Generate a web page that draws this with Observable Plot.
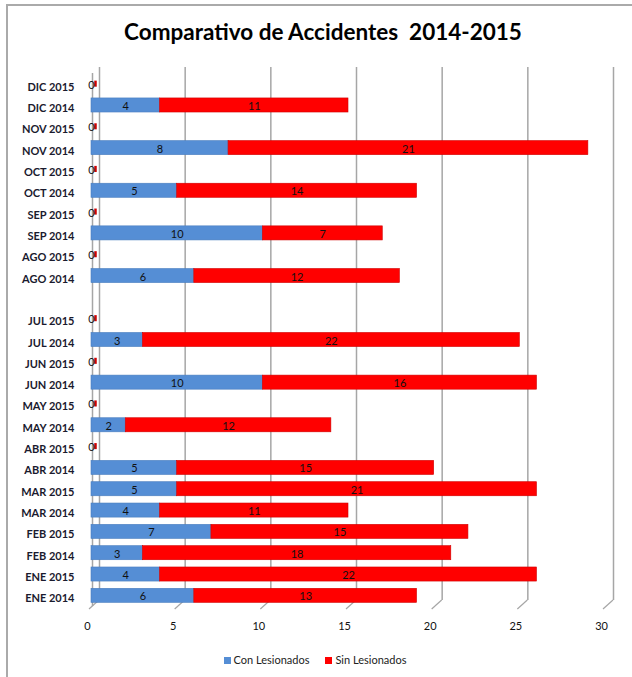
<!DOCTYPE html>
<html>
<head>
<meta charset="utf-8">
<script src="https://cdn.jsdelivr.net/npm/d3@7"></script>
<script src="https://cdn.jsdelivr.net/npm/@observablehq/plot@0.6"></script>
<style>
  body { margin: 0; background: #fff; font-family: Lato, "Open Sans", sans-serif; }
  #frame { position: absolute; left: 6px; top: 4px; width: 640px; height: 690px;
           border-left: 2px solid #aaa; border-top: 2px solid #aaa; }
  #title { position: absolute; left: 0; top: 18px; width: 646px; text-align: center;
           font: bold 22.5px Lato, sans-serif; white-space: pre; color: #000; }
  #chart { position: absolute; left: 0; top: 60px; }
  #legend { position: absolute; top: 653px; left: 0; width: 630px; text-align: center;
            font: 11px Lato, sans-serif; color: #222; }
  #legend span.sw { display: inline-block; width: 7px; height: 7px; margin-right: 3px; vertical-align: 0px; }
  #legend span.item { margin: 0 8px; }
</style>
</head>
<body>
<div id="frame"></div>
<div id="title">Comparativo de Accidentes  2014-2015</div>
<div id="chart"></div>
<div id="legend"></div>
<script>
const categories = ["ENE 2014","ENE 2015","FEB 2014","FEB 2015","MAR 2014","MAR 2015","ABR 2014","ABR 2015","MAY 2014","MAY 2015","JUN 2014","JUN 2015","JUL 2014","JUL 2015"," ","AGO 2014","AGO 2015","SEP 2014","SEP 2015","OCT 2014","OCT 2015","NOV 2014","NOV 2015","DIC 2014","DIC 2015"];
const conLesionados = [6,4,3,7,4,5,5,0,2,0,10,0,3,0,null,6,0,10,0,5,0,8,0,4,0];
const sinLesionados = [13,22,18,15,11,21,15,0,12,0,16,0,22,0,null,12,0,7,0,14,0,21,0,11,0];
const seriesNames = ["Con Lesionados","Sin Lesionados"];
const seriesColors = ["#558ed5","#ff0000"];
const xTicks = [0,5,10,15,20,25,30];

const rows = [];
categories.forEach((c, i) => {
  if (conLesionados[i] == null) return;
  rows.push({cat: c, series: seriesNames[0], value: conLesionados[i]});
  rows.push({cat: c, series: seriesNames[1], value: sinLesionados[i]});
});
const zeroRows = categories
  .map((c, i) => ({cat: c, total: conLesionados[i] == null ? null : conLesionados[i] + sinLesionados[i]}))
  .filter(d => d.total === 0);

const chart = Plot.plot({
  width: 632,
  height: 590,
  marginLeft: 91,
  marginRight: 27,
  marginTop: 13,
  marginBottom: 44,
  style: {fontFamily: "Lato, sans-serif", fontSize: "11px", color: "#000", background: "transparent"},
  x: {domain: [0, 30], ticks: xTicks, tickSize: 0, tickPadding: 16, label: null},
  y: {domain: categories.slice().reverse(), paddingInner: 0.34, paddingOuter: 0.17, round: false, tickSize: 0, tickPadding: 17, label: null},
  color: {domain: seriesNames, range: seriesColors},
  marks: [
    Plot.ruleX(xTicks, {stroke: "#a6a6a6", strokeWidth: 1.5, dx: 8, dy: -6}),
    Plot.ruleX([0], {stroke: "#a6a6a6", strokeWidth: 1.5, dx: 1}),
    Plot.link(xTicks, {x1: d => d, x2: d => d, y1: () => categories[0], y2: () => categories[0],
      stroke: "#a6a6a6", render: (i, s, v, d) => {
        const g = d3.create("svg:g");
        const y0 = d.height - d.marginBottom;
        for (const t of xTicks) {
          const x = s.x(t);
          g.append("line").attr("x1", x - 2).attr("y1", y0 + 3).attr("x2", x + 8).attr("y2", y0 - 6)
            .attr("stroke", "#a6a6a6").attr("stroke-width", 1.2);
        }
        return g.node();
      }}),
    Plot.barX(rows, Plot.stackX({x: "value", y: "cat", fill: "series", order: seriesNames, stroke: d => d.series === "Con Lesionados" ? "#4a7ebf" : "#d00000", strokeWidth: 0.6})),
    Plot.textX(rows, Plot.stackX({x: "value", y: "cat", z: "series", order: seriesNames, text: d => d.value > 0 ? String(d.value) : "", fill: "#111", dy: 1, fontSize: 11})),
    Plot.tickX(zeroRows, {x: 0, y: "cat", stroke: "#d00000", strokeWidth: 2.5, dx: 4, inset: 4}),
    Plot.textX(zeroRows, {x: 0, y: "cat", text: d => String(d.total), fill: "#111", dx: 0, dy: 1, fontSize: 11}),
    Plot.axisY({tickSize: 0, tickPadding: 17, fontWeight: "bold", fontSize: 11, fill: "#1a1a2e", dy: 3}),
    Plot.axisX({ticks: xTicks, tickSize: 0, tickPadding: 16, fill: "#111", dx: -4})
  ]
});
document.getElementById("chart").appendChild(chart);

const legend = document.getElementById("legend");
seriesNames.forEach((n, i) => {
  const item = document.createElement("span");
  item.className = "item";
  const sw = document.createElement("span");
  sw.className = "sw";
  sw.style.background = seriesColors[i];
  item.appendChild(sw);
  item.appendChild(document.createTextNode(n));
  legend.appendChild(item);
});
</script>
</body>
</html>
